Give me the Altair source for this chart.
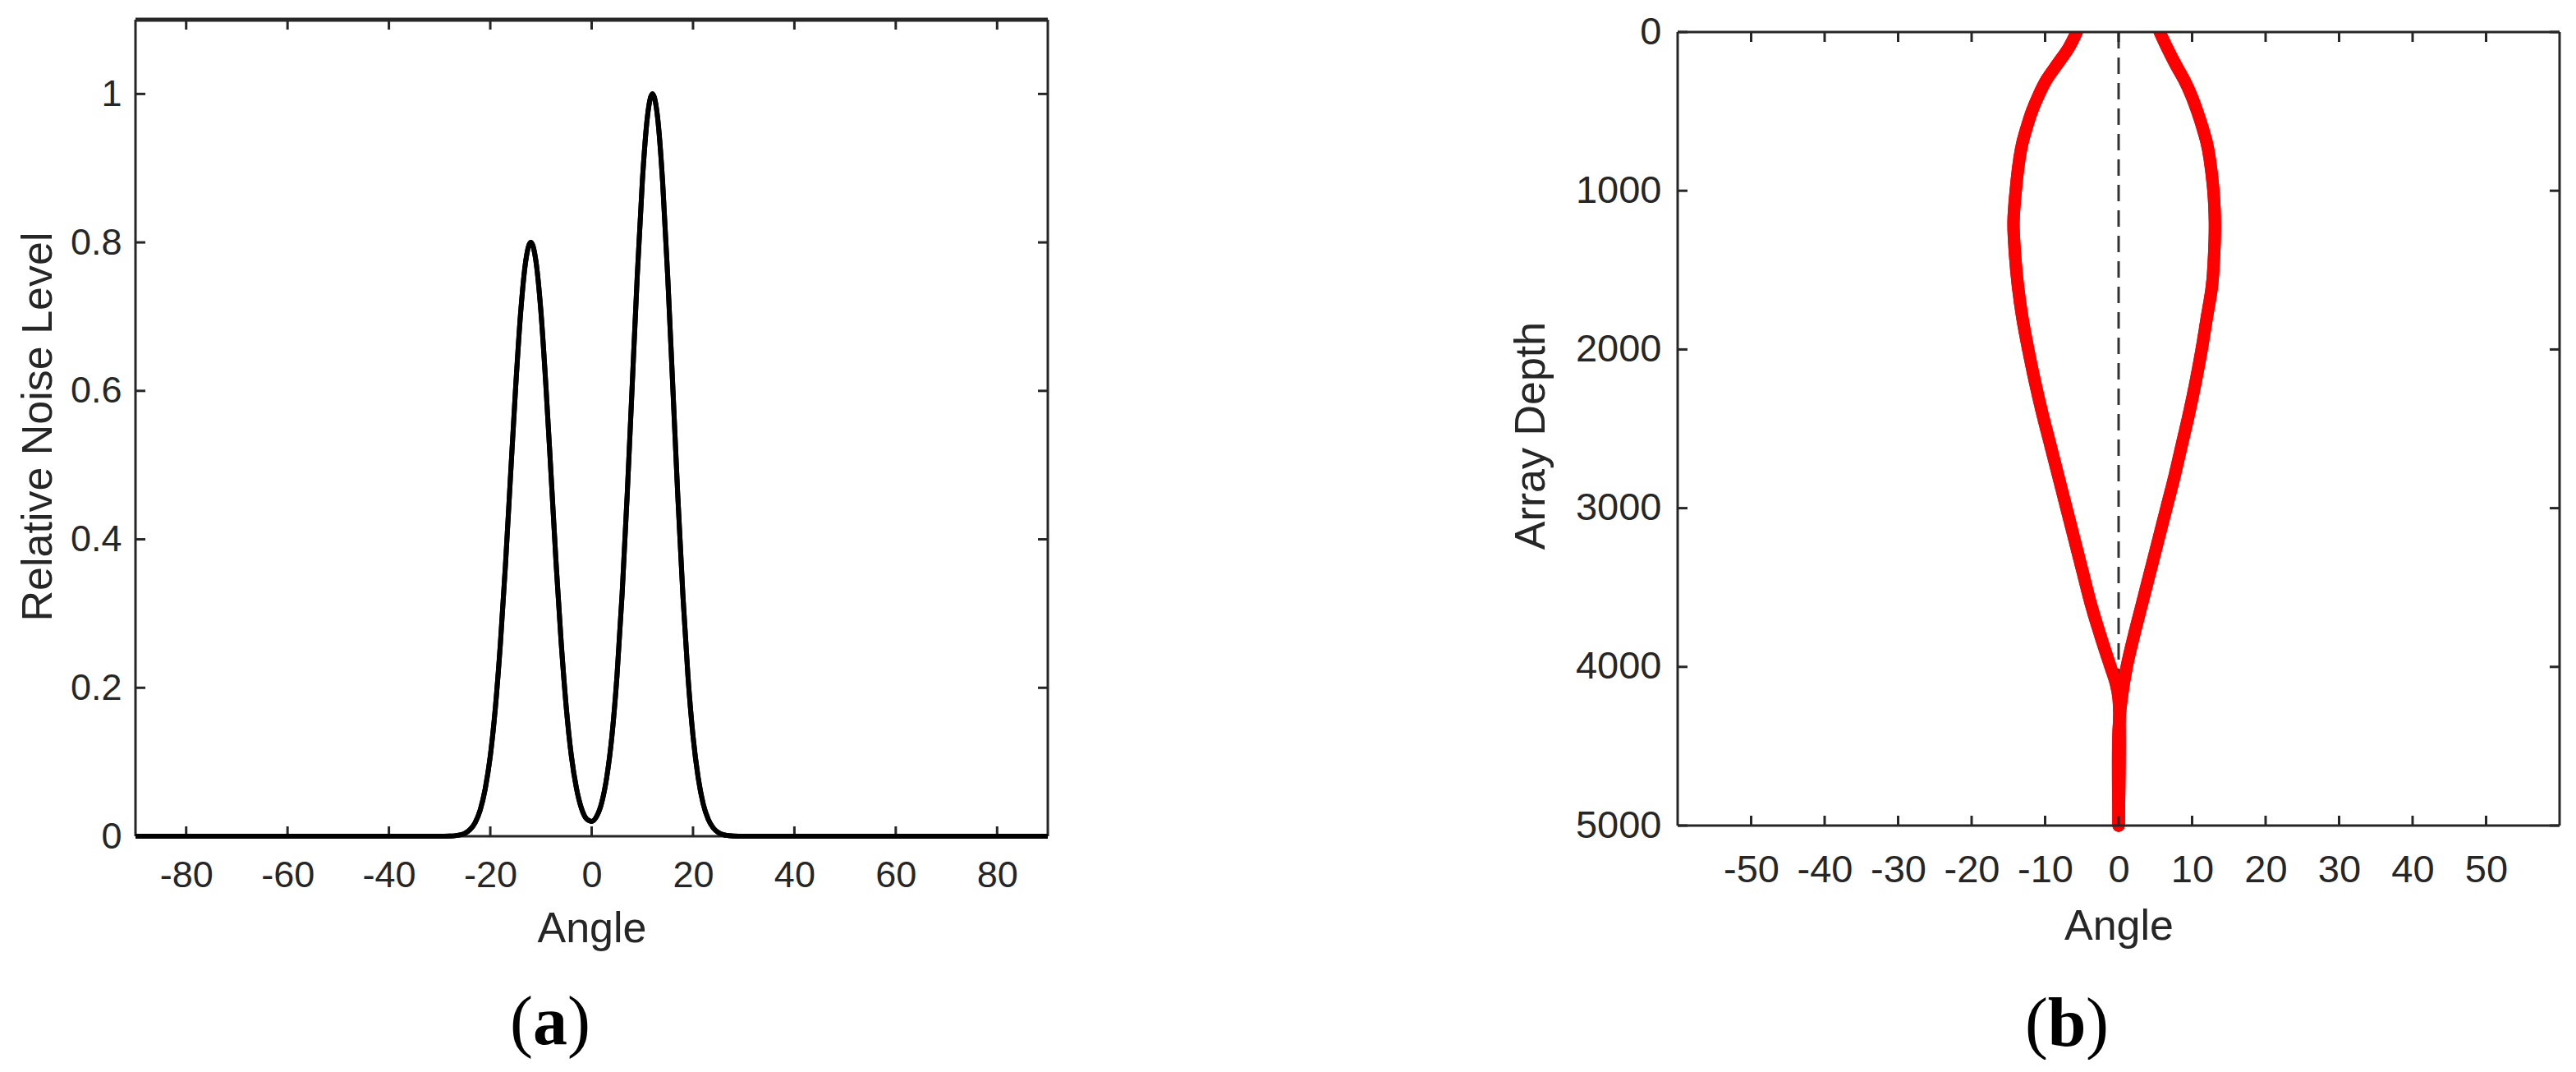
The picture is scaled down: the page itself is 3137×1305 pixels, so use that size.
import altair as alt
import pandas as pd

# ---------------- data: panel (a) ----------------
angle_a = [-90, -30, -28, -27, -26, -25, -24, -23, -22, -21, -20, -19, -18, -17, -16, -15,
           -14, -13, -12, -11, -10, -9, -8, -7, -6, -5, -4, -3, -2, -1, 0,
           1, 2, 3, 4, 5, 6, 7, 8, 9, 10, 11, 12, 13, 14, 15, 16, 17, 18, 19, 20,
           21, 22, 23, 24, 25, 26, 27, 28, 30, 90]
level_a = [0, 0, 0.0003, 0.0007, 0.0018, 0.0041, 0.0089, 0.0182, 0.0351, 0.0638, 0.108, 0.173,
           0.260, 0.366, 0.486, 0.604, 0.706, 0.775, 0.800, 0.775, 0.706, 0.604, 0.486, 0.366,
           0.260, 0.173, 0.108, 0.0647, 0.0373, 0.0233, 0.0200,
           0.0269, 0.0457, 0.0804, 0.135, 0.216, 0.325, 0.458, 0.607, 0.755, 0.882, 0.969, 1.0,
           0.969, 0.882, 0.755, 0.607, 0.458, 0.325, 0.216, 0.135,
           0.0797, 0.0439, 0.0228, 0.0111, 0.0051, 0.0022, 0.0009, 0.0003, 0, 0]
xticks_a = [-80, -60, -40, -20, 0, 20, 40, 60, 80]
yticks_a = [0, 0.2, 0.4, 0.6, 0.8, 1]

# ---------------- data: panel (b) ----------------
depth_left = [0, 100, 200, 300, 400, 500, 600, 700, 800, 1000, 1200, 1400, 1600, 1800, 2000,
              2200, 2400, 2600, 2800, 3000, 3200, 3400, 3600, 3800, 4000, 4100, 4200, 5000]
angle_left = [-5.7, -6.8, -8.3, -9.8, -10.9, -11.8, -12.5, -13.1, -13.5, -14.0, -14.3, -14.1,
              -13.7, -13.1, -12.3, -11.4, -10.4, -9.3, -8.2, -7.1, -6.0, -4.9, -3.8, -2.5,
              -1.1, -0.4, 0, 0]
depth_right = [0, 100, 200, 300, 400, 500, 600, 700, 800, 1000, 1200, 1400, 1600, 1800, 2000,
               2200, 2400, 2600, 2800, 3000, 3200, 3400, 3600, 3800, 4000, 4200, 4400, 5000]
angle_right = [5.6, 6.6, 7.7, 8.9, 9.9, 10.7, 11.4, 12.0, 12.4, 12.9, 13.1, 13.0, 12.7, 12.0,
               11.3, 10.5, 9.6, 8.6, 7.6, 6.5, 5.4, 4.3, 3.2, 2.1, 1.1, 0.4, 0, 0]
ref_depth = [0, 5000]
ref_angle = [0, 0]
xticks_b = [-50, -40, -30, -20, -10, 0, 10, 20, 30, 40, 50]
yticks_b = [0, 1000, 2000, 3000, 4000, 5000]

# ---------------- styling ----------------
FONT = "Liberation Sans"
SERIF = "Liberation Serif"
INK = "#262626"
TICK = 12
W_A, H_A = 1111, 994
W_B, H_B = 1074, 981
B_TOP = 15  # frame top of panel (b) inside its view

one = pd.DataFrame({"k": [0]})


def axis_x(values, lsize, tsize, lpad, title_y, width):
    return alt.Axis(values=values, title="Angle", domain=False, ticks=False, grid=False,
                    labelFont=FONT, labelFontSize=lsize, labelColor=INK, labelPadding=lpad,
                    labelBaseline="alphabetic", labelFlush=False, labelOverlap=False,
                    labelExpr="'' + datum.value",
                    titleFont=FONT, titleFontSize=tsize, titleFontWeight="normal", titleColor=INK,
                    titleX=width / 2, titleY=title_y, titleBaseline="alphabetic", titleAlign="center")


def axis_y(values, title, lsize, tsize, lpad, title_x, title_y):
    return alt.Axis(values=values, title=title, orient="left", domain=False, ticks=False,
                    grid=False, labelFont=FONT, labelFontSize=lsize, labelColor=INK, labelPadding=lpad,
                    labelFlush=False, labelOverlap=False, labelExpr="'' + datum.value",
                    titleFont=FONT, titleFontSize=tsize, titleFontWeight="normal", titleColor=INK,
                    titleX=title_x, titleY=title_y, titleAngle=270, titleBaseline="alphabetic",
                    titleAlign="center")


def hrule(y, x1, x2, w=3):
    return alt.Chart(one).mark_rule(color=INK, strokeWidth=w).encode(
        x=alt.value(x1), x2=alt.value(x2), y=alt.value(y))


def vrule(x, y1, y2, w=3):
    return alt.Chart(one).mark_rule(color=INK, strokeWidth=w).encode(
        x=alt.value(x), y=alt.value(y1), y2=alt.value(y2))


def x_ticks(vals, scale, axis, y1, y2):
    return alt.Chart(pd.DataFrame({"t": vals})).mark_rule(color=INK, strokeWidth=3).encode(
        x=alt.X("t:Q", scale=scale, axis=axis), y=alt.value(y1), y2=alt.value(y2))


def y_ticks(vals, scale, axis, x1, x2):
    return alt.Chart(pd.DataFrame({"t": vals})).mark_rule(color=INK, strokeWidth=3).encode(
        y=alt.Y("t:Q", scale=scale, axis=axis), x=alt.value(x1), x2=alt.value(x2))


def caption(letter, cx, half, y):
    parts = []
    parts.append(alt.Chart(pd.DataFrame({"s": ["("]})).mark_text(
        font=SERIF, fontSize=84, align="right", baseline="alphabetic", color="black").encode(
        text="s:N", x=alt.value(cx - half), y=alt.value(y)))
    parts.append(alt.Chart(pd.DataFrame({"s": [letter]})).mark_text(
        font=SERIF, fontSize=84, fontWeight="bold", align="center", baseline="alphabetic",
        color="black").encode(text="s:N", x=alt.value(cx), y=alt.value(y)))
    parts.append(alt.Chart(pd.DataFrame({"s": [")"]})).mark_text(
        font=SERIF, fontSize=84, align="left", baseline="alphabetic", color="black").encode(
        text="s:N", x=alt.value(cx + half), y=alt.value(y)))
    return parts


# ---------------- panel (a) ----------------
xs_a = alt.Scale(domain=[-90, 90], nice=False, zero=False)
ys_a = alt.Scale(domain=[0, 1.1], nice=False, zero=False)
ax_xa = axis_x(xticks_a, 45, 52, 61, 128, W_A)
ax_ya = axis_y(yticks_a, "Relative Noise Level", 45, 52, 17, -103, 495)
df_a = pd.DataFrame({"angle": angle_a, "level": level_a})


def line_a():
    return alt.Chart(df_a).mark_line(color="black", strokeWidth=6, interpolate="monotone").encode(
        x=alt.X("angle:Q", scale=xs_a, axis=ax_xa),
        y=alt.Y("level:Q", scale=ys_a, axis=ax_ya),
    )


panel_a = alt.layer(
    line_a(),
    x_ticks(xticks_a, xs_a, ax_xa, 0, TICK),
    x_ticks(xticks_a, xs_a, ax_xa, H_A, H_A - TICK),
    y_ticks(yticks_a, ys_a, ax_ya, 0, TICK),
    y_ticks(yticks_a, ys_a, ax_ya, W_A, W_A - TICK),
    hrule(0, 0, W_A, 5),
    hrule(H_A, 0, W_A),
    vrule(0, 0, H_A),
    vrule(W_A, 0, H_A),
    line_a(),
    *caption("a", 505, 21, 1247),
).properties(width=W_A, height=H_A)

# ---------------- panel (b) ----------------
xs_b = alt.Scale(domain=[-60, 60], nice=False, zero=False)
ys_b = alt.Scale(domain=[0, 5000], range=[B_TOP, H_B], nice=False, zero=False)
ax_xb = axis_x(xticks_b, 47, 52, 68, 138, W_B)
ax_yb = axis_y(yticks_b, "Array Depth", 47, 52, 20, -163, 506)

df_b = pd.concat([
    pd.DataFrame({"angle": angle_left, "depth": depth_left, "branch": "left"}),
    pd.DataFrame({"angle": angle_right, "depth": depth_right, "branch": "right"}),
], ignore_index=True)
df_ref = pd.DataFrame({"angle": ref_angle, "depth": ref_depth})


def red_lines():
    return alt.Chart(df_b).mark_line(color="#ff0000", strokeWidth=15, strokeCap="round",
                                     interpolate="catmull-rom").encode(
        x=alt.X("angle:Q", scale=xs_b, axis=ax_xb),
        y=alt.Y("depth:Q", scale=ys_b, axis=ax_yb),
        detail="branch:N",
        order=alt.Order("depth:Q"),
    )


ref_line = alt.Chart(df_ref).mark_line(color="#333333", strokeWidth=3, strokeDash=[20, 11]).encode(
    x=alt.X("angle:Q", scale=xs_b, axis=ax_xb),
    y=alt.Y("depth:Q", scale=ys_b, axis=ax_yb),
    order=alt.Order("depth:Q"),
)

cover = alt.Chart(one).mark_rect(color="white").encode(
    x=alt.value(0), x2=alt.value(W_B), y=alt.value(0), y2=alt.value(B_TOP))

panel_b = alt.layer(
    red_lines(),
    ref_line,
    red_lines(),
    cover,
    x_ticks(xticks_b, xs_b, ax_xb, B_TOP, B_TOP + TICK),
    x_ticks(xticks_b, xs_b, ax_xb, H_B, H_B - TICK),
    y_ticks(yticks_b, ys_b, ax_yb, 0, TICK),
    y_ticks(yticks_b, ys_b, ax_yb, W_B, W_B - TICK),
    hrule(B_TOP, 0, W_B),
    hrule(H_B, 0, W_B),
    vrule(0, B_TOP, H_B),
    vrule(W_B, B_TOP, H_B),
    *caption("b", 474, 23, 1249),
).properties(width=W_B, height=H_B)

chart = alt.hconcat(panel_a, panel_b, spacing=767, bounds="flush").properties(
    padding={"left": 12, "top": 1, "right": 0, "bottom": 0},
    background="white",
).configure_view(stroke=None)

chart.save("out.html", embed_options={"renderer": "svg", "actions": False})
